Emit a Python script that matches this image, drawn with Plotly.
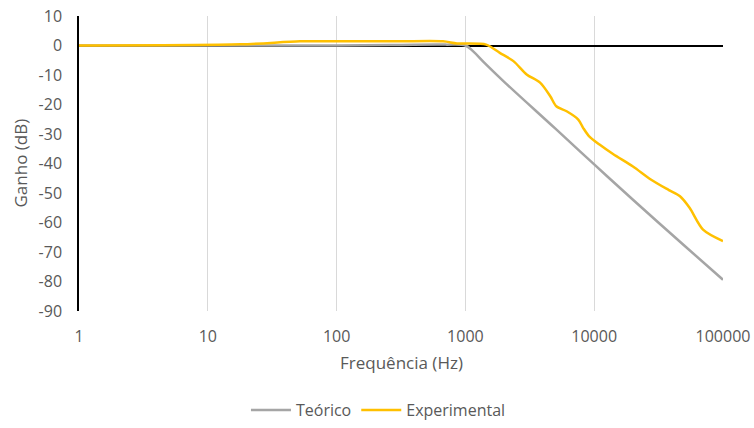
import plotly.graph_objects as go

# Frequency response: theoretical vs measured gain of the low-pass filter
freq_teorico = [1, 10, 100, 300, 700, 1000, 1150, 1400, 2000, 5000, 10000, 20000, 50000,
                100000]
gain_teorico = [0.0, 0.0, 0.0, 0.2, 0.3, 0.0, -2.0, -5.8, -12.3, -28.2, -40.3, -52.3,
                -67.8, -79.4]

freq_exp = [1, 18, 52, 100, 300, 670, 860, 1450, 1850, 2360, 2990, 3800, 4560, 5080,
            6110, 7520, 8200, 9100, 11000, 14000, 20000, 27500, 38000, 46350, 55000,
            70000, 100000]
gain_exp = [0.0, 0.4, 1.4, 1.4, 1.4, 1.4, 0.7, 0.3, -2.5, -5.3, -9.8, -12.6, -17.2, -20.6,
            -22.3, -25.1, -27.9, -30.7, -33.6, -36.8, -41.0, -45.4, -49.0, -51.1, -55.0,
            -62.4, -66.3]

x_ticks = [1, 10, 100, 1000, 10000, 100000]
x_tick_text = ["1", "10", "100", "1000", "10000", "100000"]
y_ticks = list(range(-90, 11, 10))
y_tick_text = [str(v) for v in y_ticks]

FONT = "Open Sans"
TEXT = "#595959"

fig = go.Figure()
fig.add_trace(go.Scatter(
    x=freq_teorico, y=gain_teorico, mode="lines", name="Teórico",
    line=dict(color="#A5A5A5", width=2.5, shape="spline", smoothing=1.0),
))
fig.add_trace(go.Scatter(
    x=freq_exp, y=gain_exp, mode="lines", name="Experimental",
    line=dict(color="#FFC000", width=2.5, shape="spline", smoothing=0.8),
))

fig.update_layout(
    width=754, height=428,
    margin=dict(l=79, r=31, t=16, b=117, autoexpand=False),
    paper_bgcolor="white", plot_bgcolor="white",
    font=dict(family=FONT, size=16, color=TEXT),
    showlegend=True,
    legend=dict(
        orientation="h", x=0.465, xanchor="center", y=-0.336, yanchor="middle",
        font=dict(family=FONT, size=16, color=TEXT),
        itemwidth=40, tracegroupgap=0,
    ),
    xaxis=dict(
        type="log", range=[0, 5], automargin=False,
        tickvals=x_ticks, ticktext=x_tick_text,
        showgrid=True, gridcolor="#D9D9D9", gridwidth=1,
        zeroline=False, showline=False, ticks="",
        ticklabelstandoff=14,
        tickfont=dict(family=FONT, size=16, color=TEXT),
    ),
    yaxis=dict(
        range=[-90, 10], automargin=False,
        tickvals=y_ticks, ticktext=y_tick_text,
        showgrid=False,
        zeroline=True, zerolinecolor="black", zerolinewidth=1.6,
        showline=True, linecolor="black", linewidth=1.5,
        ticks="", ticklabelstandoff=12,
        tickfont=dict(family=FONT, size=16, color=TEXT),
    ),
    annotations=[
        dict(text="Frequência (Hz)", xref="paper", yref="paper",
             x=0.5, y=-0.176, xanchor="center", yanchor="middle",
             showarrow=False, font=dict(family=FONT, size=17, color=TEXT)),
        dict(text="Ganho (dB)", xref="paper", yref="paper",
             x=-0.0916, y=0.5, xanchor="center", yanchor="middle", textangle=-90,
             showarrow=False, font=dict(family=FONT, size=17, color=TEXT)),
    ],
)

fig.write_html("out.html")
